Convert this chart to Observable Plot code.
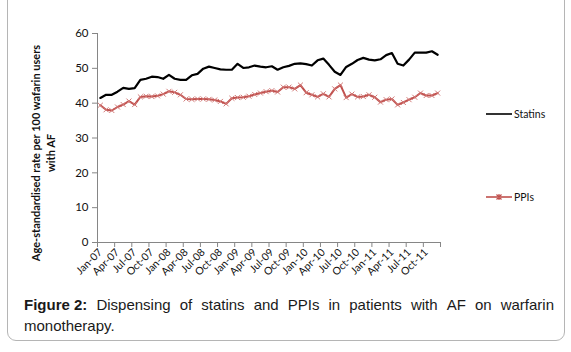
<!DOCTYPE html>
<html>
<head>
<meta charset="utf-8">
<script src="https://cdn.jsdelivr.net/npm/d3@7"></script>
<script src="https://cdn.jsdelivr.net/npm/@observablehq/plot@0.6"></script>
<style>
  html, body { margin: 0; padding: 0; background: #fff; }
  body { width: 571px; height: 352px; position: relative; overflow: hidden; font-family: Lato, "Open Sans", sans-serif; }
  #frame { position: absolute; left: 7px; top: -12px; width: 558px; height: 353px; border: 1px solid #b5b5b5; border-radius: 9px; box-sizing: border-box; }
  #chart { position: absolute; left: 0; top: 0; }
  #ytitle { position: absolute; left: 43px; top: 153px; width: 240px; transform: translate(-50%, -50%) rotate(-90deg); text-align: center; font-family: Lato, sans-serif; font-weight: bold; font-size: 11px; line-height: 15px; color: #111; }
  .leg { position: absolute; left: 486px; font-family: Lato, sans-serif; font-size: 10.5px; color: #111; display: flex; align-items: center; }
  .leg svg { margin-right: 2px; }
  .cap { position: absolute; left: 24px; width: 530px; font-family: "Liberation Sans", Arial, sans-serif; font-size: 15px; line-height: 21px; color: #1a1a1a; white-space: nowrap; }
  #cap1 { top: 294px; text-align: justify; text-align-last: justify; display: flex; justify-content: space-between; }
  #cap2 { top: 315px; }
</style>
</head>
<body>
<div id="frame"></div>
<div id="chart"></div>
<div id="ytitle">Age-standardised rate per 100 wafarin users<br>with AF</div>
<div class="leg" id="leg1" style="top:108px"><svg width="26" height="12"><line x1="0" x2="26" y1="6" y2="6" stroke="#000" stroke-width="1.6"/></svg><span>Statins</span></div>
<div class="leg" id="leg2" style="top:191px"><svg width="26" height="12"><line x1="0" x2="26" y1="6" y2="6" stroke="#c0504d" stroke-width="1.6"/><path d="M10.5,3.5L15.5,8.5M15.5,3.5L10.5,8.5M13,3V9" stroke="#c0504d" stroke-width="1.2"/></svg><span>PPIs</span></div>
<div class="cap" id="cap1"></div>
<div class="cap" id="cap2"></div>
<script>
const tickLabels = ["Jan-07","Apr-07","Jul-07","Oct-07","Jan-08","Apr-08","Jul-08","Oct-08","Jan-09","Apr-09","Jul-09","Oct-09","Jan-10","Apr-10","Jul-10","Oct-10","Jan-11","Apr-11","Jul-11","Oct-11"];
const statins = [41.5,42.4,42.4,43.3,44.4,44.1,44.3,46.7,47.0,47.6,47.5,47.0,48.1,47.0,46.7,46.7,48.0,48.4,49.9,50.5,50.1,49.7,49.6,49.6,51.3,50.1,50.3,50.8,50.5,50.3,50.6,49.6,50.3,50.7,51.3,51.4,51.2,50.8,52.3,52.8,51.0,49.0,48.1,50.4,51.3,52.4,53.0,52.5,52.3,52.6,53.8,54.4,51.3,50.8,52.5,54.5,54.5,54.5,54.9,53.9];
const ppis = [39.4,38.1,37.9,38.9,39.6,40.6,39.6,41.8,42.0,41.9,42.1,42.6,43.4,43.1,42.4,41.2,41.1,41.2,41.2,41.1,40.9,40.5,39.8,41.4,41.6,41.7,42.0,42.5,42.9,43.3,43.6,43.2,44.6,44.6,44.1,45.2,43.0,42.4,41.8,42.7,41.8,44.1,45.2,41.6,42.6,41.8,41.9,42.4,41.7,40.3,41.0,41.2,39.5,40.2,41.0,41.7,42.9,42.2,42.2,42.9];
const yTicks = [0,10,20,30,40,50,60];
const captionLine1 = ["Figure 2:", "Dispensing", "of", "statins", "and", "PPIs", "in", "patients", "with", "AF", "on", "warfarin"];
const captionLine2 = "monotherapy.";

// caption: one span per word so that the first line is justified like the reference
const cap1 = document.getElementById("cap1");
captionLine1.forEach((w, k) => {
  const el = document.createElement(k === 0 ? "b" : "span");
  el.textContent = w;
  cap1.appendChild(el);
});
document.getElementById("cap2").textContent = captionLine2;

const data = statins.map((s, i) => ({i, statins: s, ppis: ppis[i]}));
const n = statins.length;
const boundaries = d3.range(0, n / 3 + 1).map(k => k * 3 - 0.5);
const labelIdx = tickLabels.map((_, k) => k * 3);

const plot = Plot.plot({
  width: 571,
  height: 290,
  marginLeft: 97,
  marginRight: 131,
  marginTop: 33,
  marginBottom: 48,
  style: {fontFamily: "Lato, sans-serif", fontSize: "11px", color: "#111", background: "transparent"},
  x: {domain: [-0.5, n - 0.5]},
  y: {domain: [0, 60]},
  marks: [
    Plot.axisY({ticks: yTicks, tickSize: 5, tickPadding: 4, fontSize: 11.5, stroke: "#868686", label: null}),
    Plot.axisX({ticks: boundaries, tickSize: 5, tickFormat: () => "", stroke: "#868686", label: null}),
    Plot.axisX({ticks: labelIdx, tickSize: 0, tickPadding: 8, tickRotate: -45, fontSize: 10.5, tickFormat: i => tickLabels[i / 3], label: null}),
    Plot.ruleX([-0.5], {stroke: "#868686"}),
    Plot.ruleY([0], {stroke: "#868686"}),
    Plot.line(data, {x: "i", y: "statins", stroke: "#000", strokeWidth: 2.2}),
    Plot.line(data, {x: "i", y: "ppis", stroke: "#c0504d", strokeWidth: 2}),
    Plot.dot(data, {x: "i", y: "ppis", symbol: "times", r: 2.4, stroke: "#d27a78", strokeWidth: 1})
  ]
});
document.getElementById("chart").appendChild(plot);
</script>
</body>
</html>
